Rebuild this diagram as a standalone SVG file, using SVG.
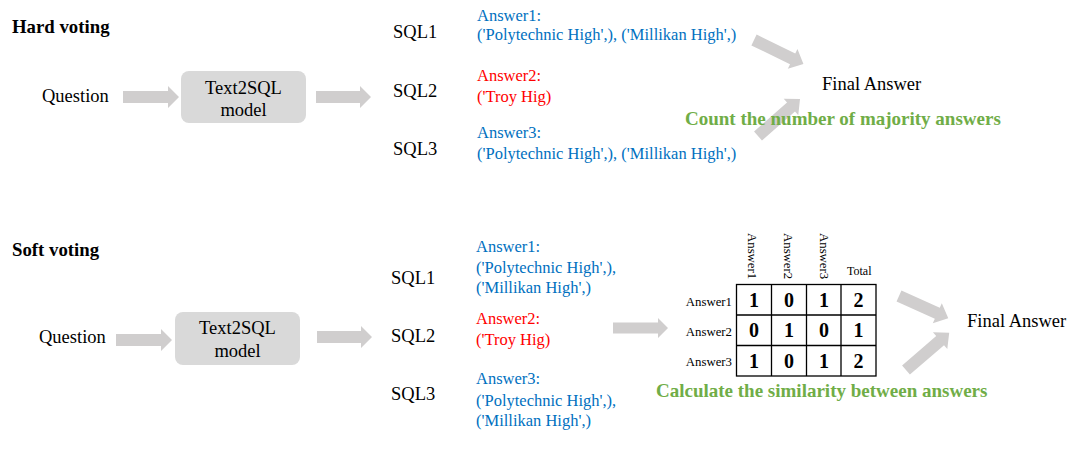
<svg xmlns="http://www.w3.org/2000/svg" width="1080" height="449" viewBox="0 0 1080 449">
<style>
text{font-family:"Liberation Serif","Times New Roman",serif;fill:#000}
.t{font-size:18.5px}
.h{font-size:18.8px;font-weight:bold}
.a{font-size:16.5px}
.blue{fill:#0070c0}
.red{fill:#ff0000}
.g{font-size:19px;font-weight:bold;fill:#70ad47}
.box{fill:#d9d9d9}
.arr{fill:#d0cece}
.lbl{font-size:12.8px}
.num{font-size:20px;font-weight:bold}
.cell{fill:none;stroke:#000;stroke-width:1.3}
</style>
<rect width="1080" height="449" fill="#fff"/>
<g id="connectors">
  <!-- hard voting -->
  <path class="arr" transform="translate(123,97)" d="M0,-6 H45 V-11 L56,0 L45,11 V6 H0 Z"/>
  <path class="arr" transform="translate(316,97)" d="M0,-6 H44 V-11 L55,0 L44,11 V6 H0 Z"/>
  <path class="arr" transform="translate(754,40) rotate(26)" d="M0,-6 H43 V-11 L55,0 L43,11 V6 H0 Z"/>
  <path class="arr" transform="translate(758,136) rotate(-41.4)" d="M0,-6 H44 V-11 L56,0 L44,11 V6 H0 Z"/>
  <!-- soft voting -->
  <path class="arr" transform="translate(116,340)" d="M0,-6 H45 V-11 L56,0 L45,11 V6 H0 Z"/>
  <path class="arr" transform="translate(317,337)" d="M0,-6 H44 V-11 L55,0 L44,11 V6 H0 Z"/>
  <path class="arr" transform="translate(613,328)" d="M0,-5.5 H45 V-10 L55,0 L45,10 V5.5 H0 Z"/>
  <path class="arr" transform="translate(899,296) rotate(24.2)" d="M0,-6 H42 V-11 L54,0 L42,11 V6 H0 Z"/>
  <path class="arr" transform="translate(906,370) rotate(-40.7)" d="M0,-6 H45 V-11 L57,0 L45,11 V6 H0 Z"/>
</g>
<g id="hard-title"><text class="h" x="12" y="33">Hard voting</text></g>
<g id="hard-question"><text class="t" x="42" y="102">Question</text></g>
<g id="hard-model">
  <rect class="box" x="181" y="71" width="125" height="52" rx="8"/>
  <text class="t" x="243.5" y="94" text-anchor="middle">Text2SQL</text>
  <text class="t" x="243.5" y="116" text-anchor="middle">model</text>
</g>
<g id="hard-sql">
  <text class="t" x="393" y="38">SQL1</text>
  <text class="t" x="393" y="97">SQL2</text>
  <text class="t" x="393" y="155">SQL3</text>
</g>
<g id="hard-answers">
  <text class="a blue" x="477" y="21">Answer1:</text>
  <text class="a blue" x="477" y="40">('Polytechnic High',), ('Millikan High',)</text>
  <text class="a red" x="477" y="81">Answer2:</text>
  <text class="a red" x="477" y="102">('Troy Hig)</text>
  <text class="a blue" x="477" y="138">Answer3:</text>
  <text class="a blue" x="477" y="159">('Polytechnic High',), ('Millikan High',)</text>
</g>
<g id="hard-final"><text class="t" x="822" y="90">Final Answer</text></g>
<g id="hard-note"><text class="g" x="685" y="125">Count the number of majority answers</text></g>

<g id="soft-title"><text class="h" x="12" y="256">Soft voting</text></g>
<g id="soft-question"><text class="t" x="39" y="343">Question</text></g>
<g id="soft-model">
  <rect class="box" x="175" y="312" width="125" height="53" rx="8"/>
  <text class="t" x="237.5" y="334" text-anchor="middle">Text2SQL</text>
  <text class="t" x="237.5" y="357" text-anchor="middle">model</text>
</g>
<g id="soft-sql">
  <text class="t" x="391" y="284">SQL1</text>
  <text class="t" x="391" y="342">SQL2</text>
  <text class="t" x="391" y="400">SQL3</text>
</g>
<g id="soft-answers">
  <text class="a blue" x="476" y="252">Answer1:</text>
  <text class="a blue" x="476" y="273">('Polytechnic High',),</text>
  <text class="a blue" x="476" y="293">('Millikan High',)</text>
  <text class="a red" x="476" y="324">Answer2:</text>
  <text class="a red" x="476" y="345">('Troy Hig)</text>
  <text class="a blue" x="476" y="384">Answer3:</text>
  <text class="a blue" x="476" y="406">('Polytechnic High',),</text>
  <text class="a blue" x="476" y="426">('Millikan High',)</text>
</g>
<g id="similarity-matrix">
  <text class="lbl" transform="translate(748,233) rotate(90)">Answer1</text>
  <text class="lbl" transform="translate(784,233) rotate(90)">Answer2</text>
  <text class="lbl" transform="translate(820,233) rotate(90)">Answer3</text>
  <text class="lbl" x="847" y="275" style="font-size:12px">Total</text>
  <text class="lbl" x="732" y="306" text-anchor="end">Answer1</text>
  <text class="lbl" x="732" y="336" text-anchor="end">Answer2</text>
  <text class="lbl" x="732" y="366" text-anchor="end">Answer3</text>
  <rect class="cell" x="736.5" y="284.5" width="139.5" height="91.5"/>
  <path class="cell" d="M771.5,284.5V376M806.5,284.5V376M841,284.5V376M736.5,315H876M736.5,345.5H876"/>
  <g class="num" text-anchor="middle">
    <text class="num" x="754" y="306.5">1</text>
    <text class="num" x="789" y="306.5">0</text>
    <text class="num" x="824" y="306.5">1</text>
    <text class="num" x="858.5" y="306.5">2</text>
    <text class="num" x="754" y="337">0</text>
    <text class="num" x="789" y="337">1</text>
    <text class="num" x="824" y="337">0</text>
    <text class="num" x="858.5" y="337">1</text>
    <text class="num" x="754" y="367.5">1</text>
    <text class="num" x="789" y="367.5">0</text>
    <text class="num" x="824" y="367.5">1</text>
    <text class="num" x="858.5" y="367.5">2</text>
  </g>
</g>
<g id="soft-final"><text class="t" x="967" y="327">Final Answer</text></g>
<g id="soft-note"><text class="g" x="656" y="397">Calculate the similarity between answers</text></g>
</svg>
